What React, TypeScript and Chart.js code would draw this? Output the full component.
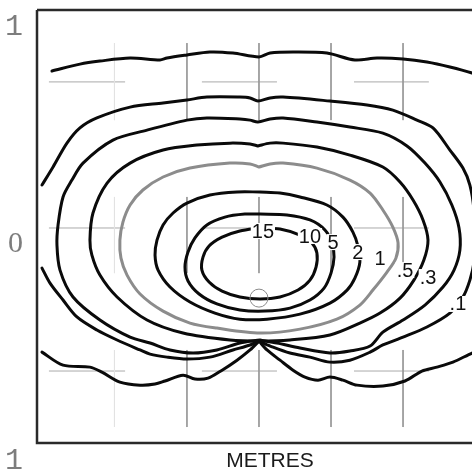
import { useEffect, useRef } from "react";
import { Chart, registerables } from "chart.js";

Chart.register(...registerables);

type P = [number, number];

// axis / frame (metres)
const yTicks = [-1, 0, 1];
const xRange = [-1.023, 1.203];
const yRange = [-1.041, 1.106];
const frameX = [-1.023, 1.023];
const frameY = [-0.917, 1.078];

// partial grid
const gridX = [-0.666, -0.332, 0, 0.332, 0.664];
const gridXFaint = [true, false, false, false, false];
const gridXBands: P[] = [[0.926, 0.571], [0.217, -0.134], [-0.488, -0.843]];
const gridY = [0.747, 0.074, -0.585];
const gridYBands: P[] = [[-0.968, -0.617], [-0.263, 0.083], [0.438, 0.783]];

// contours
const contour15: P[] = [[0.005,0.074],[0.097,0.069],[0.189,0.041],[0.244,0.005],[0.267,-0.041],[0.263,-0.106],[0.235,-0.166],[0.180,-0.212],[0.097,-0.244],[0.005,-0.253],[-0.088,-0.244],[-0.170,-0.217],[-0.230,-0.175],[-0.263,-0.120],[-0.258,-0.060],[-0.230,-0.009],[-0.170,0.032],[-0.088,0.060],[0.005,0.074]];
const contour5: P[] = [[0.005,0.138],[0.129,0.134],[0.235,0.111],[0.304,0.065],[0.336,0.005],[0.346,-0.060],[0.332,-0.134],[0.300,-0.203],[0.235,-0.258],[0.143,-0.295],[0.028,-0.309],[-0.088,-0.304],[-0.194,-0.276],[-0.276,-0.230],[-0.327,-0.170],[-0.341,-0.106],[-0.327,-0.037],[-0.295,0.028],[-0.240,0.088],[-0.157,0.124],[-0.065,0.138],[0.005,0.138]];
const contour2: P[] = [[0.005,0.240],[0.097,0.235],[0.189,0.217],[0.313,0.180],[0.387,0.124],[0.433,0.055],[0.456,-0.009],[0.465,-0.083],[0.442,-0.157],[0.406,-0.212],[0.327,-0.272],[0.189,-0.323],[0.037,-0.346],[-0.088,-0.346],[-0.203,-0.318],[-0.318,-0.267],[-0.410,-0.198],[-0.465,-0.120],[-0.479,-0.051],[-0.470,0.018],[-0.442,0.088],[-0.396,0.143],[-0.332,0.189],[-0.226,0.226],[-0.101,0.240],[0.005,0.240]];
const contour1: P[] = [[0,0.355],[0.051,0.369],[0.111,0.373],[0.267,0.350],[0.419,0.295],[0.512,0.235],[0.571,0.157],[0.617,0.078],[0.641,0.005],[0.631,-0.065],[0.590,-0.129],[0.525,-0.212],[0.465,-0.281],[0.359,-0.346],[0.189,-0.392],[0.005,-0.410],[-0.194,-0.387],[-0.318,-0.364],[-0.442,-0.309],[-0.548,-0.230],[-0.608,-0.143],[-0.636,-0.065],[-0.641,0.018],[-0.627,0.101],[-0.594,0.180],[-0.535,0.249],[-0.442,0.309],[-0.318,0.350],[-0.134,0.373],[-0.041,0.369],[0,0.355]];
const contour05: P[] = [[-0.005,0.452],[0.051,0.465],[0.111,0.465],[0.267,0.447],[0.419,0.410],[0.571,0.355],[0.650,0.286],[0.710,0.203],[0.756,0.111],[0.779,0.018],[0.760,-0.074],[0.714,-0.166],[0.650,-0.249],[0.558,-0.318],[0.465,-0.364],[0.327,-0.419],[0.143,-0.442],[0.005,-0.447],[-0.134,-0.442],[-0.350,-0.410],[-0.516,-0.350],[-0.654,-0.244],[-0.733,-0.143],[-0.770,-0.051],[-0.779,0.018],[-0.765,0.143],[-0.700,0.281],[-0.594,0.373],[-0.442,0.433],[-0.286,0.456],[-0.134,0.465],[-0.041,0.461],[-0.005,0.452]];
const contour03: P[] = [[0.005,-0.442],[-0.088,-0.456],[-0.194,-0.488],[-0.304,-0.502],[-0.410,-0.488],[-0.502,-0.456],[-0.594,-0.429],[-0.733,-0.350],[-0.857,-0.244],[-0.917,-0.120],[-0.931,-0.005],[-0.926,0.088],[-0.903,0.217],[-0.862,0.295],[-0.811,0.373],[-0.673,0.479],[-0.516,0.525],[-0.332,0.571],[-0.240,0.581],[-0.088,0.576],[-0.041,0.571],[-0.005,0.562],[0.051,0.576],[0.111,0.581],[0.267,0.562],[0.419,0.539],[0.571,0.511],[0.682,0.452],[0.765,0.373],[0.834,0.286],[0.889,0.180],[0.922,0.074],[0.926,-0.028],[0.899,-0.120],[0.848,-0.198],[0.765,-0.281],[0.664,-0.350],[0.571,-0.406],[0.512,-0.470],[0.419,-0.493],[0.327,-0.502],[0.189,-0.479],[0.083,-0.456],[0.005,-0.442]];
const contour01Upper: P[] = [[-1.000,0.272],[-0.949,0.355],[-0.885,0.465],[-0.825,0.535],[-0.747,0.581],[-0.594,0.631],[-0.442,0.650],[-0.332,0.664],[-0.240,0.677],[-0.088,0.677],[-0.041,0.673],[-0.005,0.659],[0.051,0.673],[0.111,0.677],[0.327,0.659],[0.498,0.641],[0.617,0.617],[0.728,0.571],[0.802,0.535],[0.880,0.433],[0.940,0.350],[0.972,0.272],[0.991,0.157],[0.995,0.018],[0.991,-0.083],[0.972,-0.166],[0.940,-0.244],[0.880,-0.318],[0.774,-0.382],[0.664,-0.429],[0.571,-0.465],[0.512,-0.498],[0.419,-0.535],[0.327,-0.544],[0.235,-0.521],[0.143,-0.502],[0.065,-0.475],[0,-0.447]];
const contour01Lower: P[] = [[0,-0.447],[-0.041,-0.465],[-0.120,-0.488],[-0.226,-0.521],[-0.332,-0.530],[-0.424,-0.521],[-0.502,-0.507],[-0.548,-0.488],[-0.654,-0.442],[-0.747,-0.396],[-0.839,-0.336],[-0.903,-0.258],[-0.963,-0.180],[-1.000,-0.111]];
const outerTop: P[] = [[-0.954,0.797],[-0.825,0.829],[-0.733,0.843],[-0.594,0.857],[-0.456,0.848],[-0.424,0.857],[-0.332,0.871],[-0.226,0.885],[-0.120,0.880],[0,0.862],[0.051,0.880],[0.157,0.885],[0.313,0.880],[0.442,0.848],[0.544,0.857],[0.664,0.853],[0.774,0.839],[0.880,0.816],[0.982,0.788],[1.041,0.765]];
const outerBottomLeft: P[] = [[-1.000,-0.498],[-0.903,-0.558],[-0.779,-0.567],[-0.724,-0.590],[-0.641,-0.636],[-0.548,-0.650],[-0.479,-0.645],[-0.433,-0.631],[-0.350,-0.604],[-0.295,-0.622],[-0.235,-0.618],[-0.170,-0.581],[-0.101,-0.535],[-0.041,-0.488],[0,-0.447]];
const outerBottomRight: P[] = [[0,-0.447],[0.037,-0.488],[0.097,-0.535],[0.157,-0.581],[0.212,-0.613],[0.272,-0.627],[0.327,-0.613],[0.387,-0.627],[0.452,-0.650],[0.571,-0.654],[0.673,-0.631],[0.751,-0.585],[0.820,-0.567],[0.894,-0.544],[0.982,-0.502],[1.041,-0.479]];

// contour labels
const labelText = ["15", "10", "5", "2", "1", ".5", ".3", ".1"];
const labelX = [0.018, 0.235, 0.341, 0.456, 0.558, 0.673, 0.779, 0.917];
const labelY = [0.060, 0.037, 0.009, -0.037, -0.065, -0.120, -0.152, -0.276];

// source marker
const markerX = [0];
const markerY = [-0.249];

const axisTitle = "METRES";
const axisTitleX = 0.051;
const axisTitleY = -1.0;

const pts = (a: P[]) => a.map(([x, y]) => ({ x, y }));

function gridVertical(faint: boolean) {
  const out: any[] = [];
  gridX.forEach((gx, i) => {
    if (gridXFaint[i] !== faint) return;
    gridXBands.forEach(([a, b]) => {
      out.push({ x: gx, y: a }, { x: gx, y: b }, { x: gx, y: null });
    });
  });
  return out;
}
function gridHorizontal() {
  const out: any[] = [];
  gridY.forEach((gy) => {
    gridYBands.forEach(([a, b]) => {
      out.push({ x: a, y: gy }, { x: b, y: gy }, { x: null, y: gy });
    });
  });
  return out;
}

const labelPlugin = {
  id: "contourLabels",
  afterDatasetsDraw(chart: any) {
    const { ctx, scales } = chart;
    const xs = scales.x;
    const ys = scales.y;
    ctx.save();
    ctx.font = "20px 'Liberation Sans', Arial, sans-serif";
    ctx.textAlign = "center";
    ctx.textBaseline = "middle";
    labelText.forEach((t, i) => {
      const px = xs.getPixelForValue(labelX[i]);
      const py = ys.getPixelForValue(labelY[i]);
      const w = ctx.measureText(t).width;
      ctx.fillStyle = "#ffffff";
      ctx.fillRect(px - w / 2 - 1, py - 8, w + 2, 16);
      ctx.fillStyle = "#111111";
      ctx.fillText(t, px, py + 1);
    });
    ctx.font = "21px 'Liberation Sans', Arial, sans-serif";
    ctx.fillStyle = "#1a1a1a";
    ctx.fillText(axisTitle, xs.getPixelForValue(axisTitleX), ys.getPixelForValue(axisTitleY));
    ctx.restore();
  },
};

export default function App() {
  const ref = useRef<HTMLCanvasElement | null>(null);
  useEffect(() => {
    if (!ref.current) return;
    const line = (data: P[], color: string, tension = 0.3) => ({
      data: pts(data),
      showLine: true,
      borderColor: color,
      borderWidth: 3,
      pointRadius: 0,
      tension,
      fill: false,
      borderCapStyle: "round",
      borderJoinStyle: "round",
      order: 1,
    });
    const chart = new Chart(ref.current, {
      type: "scatter",
      data: {
        datasets: [
          {
            data: markerX.map((x, i) => ({ x, y: markerY[i] })),
            showLine: false,
            pointRadius: 9,
            pointBorderWidth: 1,
            pointBorderColor: "#8a8a8a",
            pointBackgroundColor: "rgba(0,0,0,0)",
            order: 0,
          } as any,
          line(contour15, "#0a0a0a"),
          line(contour5, "#0a0a0a"),
          line(contour2, "#0a0a0a"),
          line(contour1, "#8c8c8c"),
          line(contour05, "#0a0a0a"),
          line(contour03, "#0a0a0a"),
          line(contour01Upper, "#0a0a0a"),
          line(contour01Lower, "#0a0a0a"),
          line(outerTop, "#0a0a0a"),
          line(outerBottomLeft, "#0a0a0a"),
          line(outerBottomRight, "#0a0a0a"),
          {
            data: [
              { x: frameX[0], y: frameY[1] },
              { x: frameX[1], y: frameY[1] },
              { x: frameX[1], y: frameY[0] },
              { x: frameX[0], y: frameY[0] },
              { x: frameX[0], y: frameY[1] },
            ],
            showLine: true,
            borderColor: "#2a2a2a",
            borderWidth: 2.5,
            pointRadius: 0,
            tension: 0,
            clip: 6,
            order: 2,
          } as any,
          {
            data: gridVertical(false),
            showLine: true,
            borderColor: "#9a9a9a",
            borderWidth: 1,
            pointRadius: 0,
            spanGaps: false,
            order: 3,
          } as any,
          {
            data: gridVertical(true),
            showLine: true,
            borderColor: "#e2e2e2",
            borderWidth: 1,
            pointRadius: 0,
            spanGaps: false,
            order: 3,
          } as any,
          {
            data: gridHorizontal(),
            showLine: true,
            borderColor: "#aaaaaa",
            borderWidth: 1,
            pointRadius: 0,
            spanGaps: false,
            order: 3,
          } as any,
        ] as any,
      },
      options: {
        animation: false,
        responsive: false,
        events: [],
        layout: { autoPadding: false, padding: { left: 5, top: 4, bottom: 4, right: 0 } },
        plugins: {
          legend: { display: false },
          tooltip: { enabled: false },
        },
        scales: {
          x: { type: "linear", display: false, min: xRange[0], max: xRange[1] },
          y: {
            type: "linear",
            min: yRange[0],
            max: yRange[1],
            grid: { display: false, drawTicks: false },
            border: { display: false },
            ticks: {
              autoSkip: false,
              padding: 14,
              color: "#7d7d7d",
              font: (c: any) =>
                c.tick && c.tick.value === 0
                  ? { family: "'Liberation Serif', serif", size: 30 }
                  : { family: "'Liberation Mono', 'Courier New', monospace", size: 30 },
              callback: (v: any) => String(Math.abs(Number(v))),
            },
            afterBuildTicks: (s: any) => {
              s.ticks = yTicks.map((v) => ({ value: v }));
            },
            afterFit: (s: any) => {
              s.paddingTop = 0;
              s.paddingBottom = 0;
              s.width = 32;
            },
          },
        },
      } as any,
      plugins: [labelPlugin],
    });
    return () => chart.destroy();
  }, []);
  return (
    <div
      style={{
        position: "fixed",
        left: 0,
        top: 0,
        width: 472,
        height: 474,
        overflow: "hidden",
        background: "#ffffff",
      }}
    >
      <canvas ref={ref} width={520} height={474} style={{ display: "block" }} />
    </div>
  );
}
